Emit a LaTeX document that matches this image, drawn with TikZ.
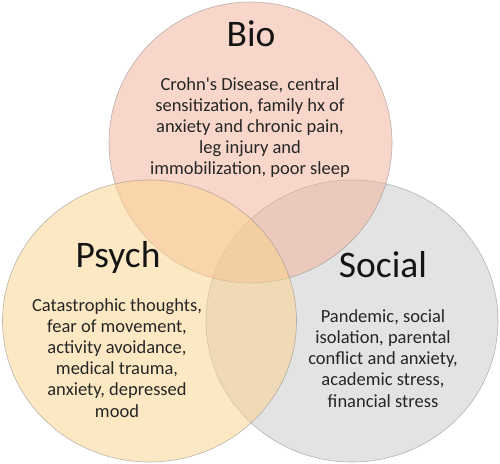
\documentclass[tikz,border=0pt]{standalone}
\usepackage{fontspec}
\setmainfont{Carlito}
\begin{document}
\begin{tikzpicture}[x=1pt,y=1pt,
  venn/.style={draw=black!45,draw opacity=0.6,line width=0.6pt,fill opacity=0.5},
  ttl/.style={font=\fontsize{37.5}{40}\selectfont,text=black!92,inner sep=0pt,anchor=base},
  body/.style={font=\fontsize{18.5}{21.2}\selectfont,text=black!85,align=center,inner sep=0pt,anchor=base}]
\definecolor{biocol}{RGB}{243,177,151}
\definecolor{psycol}{RGB}{253,211,139}
\definecolor{soccol}{RGB}{201,201,201}
\useasboundingbox (0,0) rectangle (500,463);
\fill[white] (0,0) rectangle (500,463);
\path[venn,fill=soccol] (352,142) ellipse [x radius=146, y radius=141];
\path[venn,fill=biocol] (250.5,320.5) ellipse [x radius=141.5, y radius=140.5];
\path[venn,fill=psycol] (149.5,142) ellipse [x radius=147, y radius=141];
\node[ttl] (biot) at (251,416) {Bio};
\node[body] (biob) at (250,288) {Crohn\textquotesingle s Disease, central\\sensitization, family hx of\\anxiety and chronic pain,\\leg injury and\\immobilization, poor sleep};
\node[ttl] (psyt) at (118,195) {Psych};
\node[body] (psyb) at (117,46) {Catastrophic thoughts,\\fear of movement,\\activity avoidance,\\medical trauma,\\anxiety, depressed\\mood};
\node[ttl] (soct) at (383,185) {Social};
\node[body] (socb) at (383,56) {Pandemic, social\\isolation, parental\\conflict and anxiety,\\academic stress,\\financial stress};
\end{tikzpicture}
\end{document}
